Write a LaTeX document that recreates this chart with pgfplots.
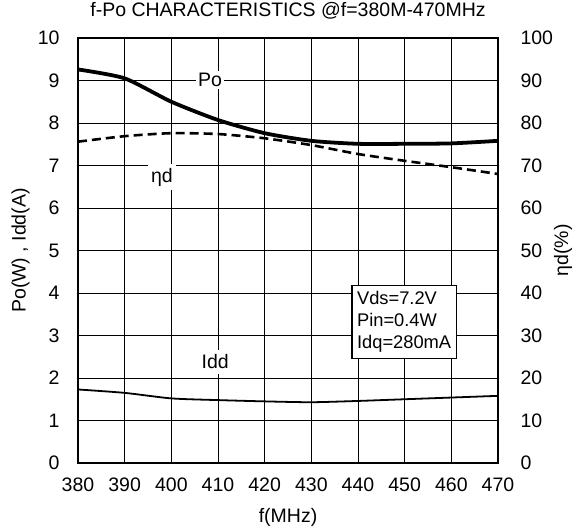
\documentclass[border=0pt]{standalone}
\usepackage{fontspec}
\setmainfont{Liberation Sans}
\usepackage{pgfplots}
\pgfplotsset{compat=1.18}
\begin{document}
\begin{tikzpicture}[x=1bp,y=1bp]
\path[use as bounding box] (-78,-69) rectangle (509,463);
\pgfplotsset{every axis/.append style={
  at={(0,0)}, anchor=south west, scale only axis, width=420bp, height=425bp,
  xmin=380, xmax=470,
  /pgf/number format/assume math mode=true,
  tick style={draw=none},
  every tick label/.append style={font=\fontsize{19.5bp}{23bp}\selectfont},
  label style={font=\fontsize{19.5bp}{23bp}\selectfont},
}}
\begin{axis}[
  ymin=0, ymax=10,
  xtick={380,390,...,470}, ytick={0,1,...,10},
  grid=major, grid style={black, line width=0.8pt},
  axis line style={line width=1.6pt},
  xlabel={f(MHz)}, ylabel={Po(W) , Idd(A)},
  xlabel style={at={(axis description cs:0.5,-0.129)}, anchor=center},
  ylabel style={at={(axis description cs:-0.137,0.5)}, anchor=center},
  title={f-Po CHARACTERISTICS @f=380M-470MHz},
  title style={at={(axis description cs:0.5,1.05)}, anchor=center, font=\fontsize{19.5bp}{23bp}\selectfont},
  yticklabel style={xshift=-15bp},
  xticklabel style={yshift=-11bp},
]
\addplot[black, line width=3.8pt, smooth, tension=0.4] coordinates {
(380,9.26) (390,9.05) (400,8.50) (410,8.07) (420,7.76) (430,7.58) (440,7.51) (450,7.51) (460,7.52) (470,7.58)};
\addplot[black, line width=1.8pt, smooth, tension=0.4] coordinates {
(380,1.73) (390,1.65) (400,1.52) (410,1.48) (420,1.45) (430,1.43) (440,1.46) (450,1.50) (460,1.54) (470,1.58)};
\node[fill=white, inner sep=2bp, font=\fontsize{19.5bp}{23bp}\selectfont] at (axis cs:408.3,9.01) {Po};
\node[fill=white, inner xsep=3bp, inner ysep=4bp, font=\fontsize{19.5bp}{23bp}\selectfont] at (axis cs:398,6.73) {ηd};
\node[fill=white, inner xsep=3bp, inner ysep=5bp, font=\fontsize{19.5bp}{23bp}\selectfont] at (axis cs:409.4,2.38) {Idd};
\node[draw=black, line width=1.2pt, fill=white, align=left, anchor=north west, inner xsep=5bp, inner ysep=6bp,
  font=\fontsize{18.3bp}{22bp}\selectfont] at (axis cs:438.6,4.19) {Vds=7.2V\\Pin=0.4W\\Idq=280mA};
\end{axis}
\begin{axis}[
  ymin=0, ymax=100, ytick={0,10,...,100},
  axis x line=none, axis y line*=right,
  axis line style={draw=none},
  ylabel={ηd(\%)},
  ylabel style={at={(axis description cs:1.155,0.5)}, anchor=center},
  yticklabel style={xshift=19bp},
]
\addplot[black, line width=2.6pt, dashed, dash pattern=on 9bp off 5bp, smooth, tension=0.4] coordinates {
(380,75.6) (390,76.9) (400,77.6) (410,77.4) (420,76.4) (430,74.8) (440,72.7) (450,71.1) (460,69.6) (470,68.0)};
\end{axis}
\end{tikzpicture}
\end{document}
